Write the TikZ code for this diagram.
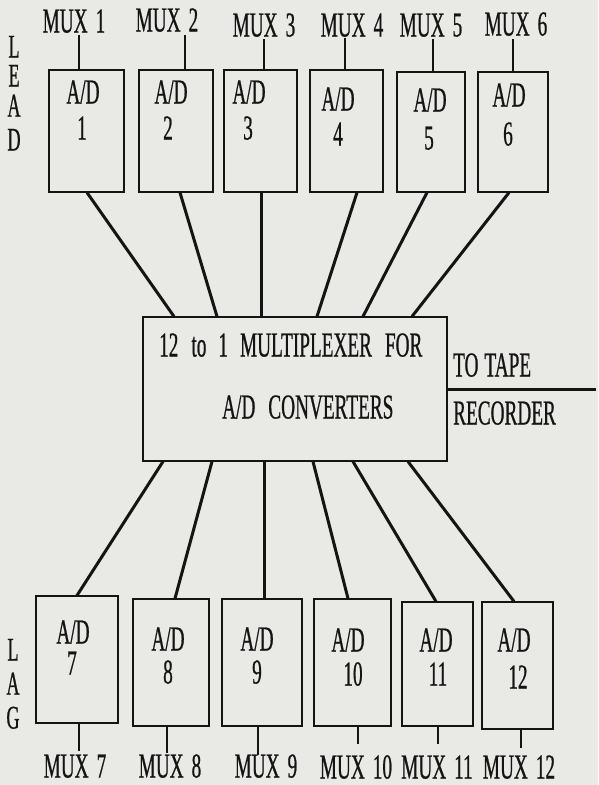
\documentclass[tikz,border=0pt]{standalone}
\usepackage{fontspec}
\setmainfont{Liberation Serif}[FakeStretch=0.55,FakeBold=0.6]
\definecolor{paper}{RGB}{233,234,230}
\definecolor{ink}{RGB}{20,20,20}
\tikzset{
  adbox/.style={draw=ink, line width=1.1pt, inner sep=0pt},
  lbl/.style={inner sep=0pt, text=ink, font={\fontsize{35}{40}\selectfont\spaceskip=8pt\relax}, text height=23pt, text depth=0pt},
  letter/.style={lbl, font={\fontsize{33}{38}\selectfont}, text height=21pt},
  wire/.style={draw=ink, line width=3pt},
  stub/.style={draw=ink, line width=2pt},
}
\begin{document}
\begin{tikzpicture}[x=1pt,y=-1pt]
\fill[paper] (0,0) rectangle (598,785);
\useasboundingbox (0,0) rectangle (598,785);

% LEAD / LAG
\node[letter] (l1) at (14,47) {L};
\node[letter] (l2) at (14,76) {E};
\node[letter] (l3) at (14,106) {A};
\node[letter] (l4) at (14,140) {D};
\node[letter] (g1) at (13,650) {L};
\node[letter] (g2) at (13,684) {A};
\node[letter] (g3) at (13,718) {G};

% top boxes
\node[adbox, minimum width=75pt, minimum height=122pt] (b1) at (86.5,131) {};
\node[adbox, minimum width=74pt, minimum height=122pt] (b2) at (176,131) {};
\node[adbox, minimum width=73pt, minimum height=122pt] (b3) at (260.5,131) {};
\node[adbox, minimum width=73pt, minimum height=122pt] (b4) at (346.5,131) {};
\node[adbox, minimum width=68pt, minimum height=120pt] (b5) at (431,132) {};
\node[adbox, minimum width=70pt, minimum height=120pt] (b6) at (513,132) {};

% bottom boxes
\node[adbox, minimum width=82pt, minimum height=127pt] (b7) at (77,659.5) {};
\node[adbox, minimum width=76pt, minimum height=127pt] (b8) at (171,662.5) {};
\node[adbox, minimum width=80pt, minimum height=127pt] (b9) at (262,662.5) {};
\node[adbox, minimum width=77pt, minimum height=127pt] (b10) at (352.5,662.5) {};
\node[adbox, minimum width=71pt, minimum height=124pt] (b11) at (437.5,664) {};
\node[adbox, minimum width=71pt, minimum height=127pt] (b12) at (517.5,665.5) {};

% central box
\node[adbox, minimum width=304pt, minimum height=144pt] (mx) at (295,389) {};
\node[lbl, anchor=west] (mxa) at (159,345) {12\hspace{13pt}to\hspace{12pt}1\hspace{12pt}MULTIPLEXER\hspace{13pt}FOR};
\node[lbl, anchor=west] (mxb) at (222,407) {A/D\hspace{13pt}CONVERTERS};
\node[lbl, anchor=west] (tp1) at (453,365) {TO\hspace{6pt}TAPE};
\node[lbl, anchor=west] (tp2) at (453,413) {RECORDER};
\coordinate (tapeend) at (596,389);
\draw[wire] (mx.east) -- (tapeend);

% box texts top
\node[lbl] (a1) at (83,92) {A/D};  \node[lbl] (n1) at (82,128) {1};
\node[lbl] (a2) at (171,92) {A/D}; \node[lbl] (n2) at (168,128) {2};
\node[lbl] (a3) at (249,92) {A/D}; \node[lbl] (n3) at (248,128) {3};
\node[lbl] (a4) at (338,99) {A/D}; \node[lbl] (n4) at (338,134) {4};
\node[lbl] (a5) at (430,100) {A/D}; \node[lbl] (n5) at (429,138) {5};
\node[lbl] (a6) at (509,95) {A/D}; \node[lbl] (n6) at (508,134) {6};

% box texts bottom
\node[lbl] (a7) at (73,632) {A/D};  \node[lbl] (n7) at (72,663) {7};
\node[lbl] (a8) at (168,639) {A/D}; \node[lbl] (n8) at (168,672) {8};
\node[lbl] (a9) at (257,639) {A/D}; \node[lbl] (n9) at (257,672) {9};
\node[lbl] (a10) at (348,640) {A/D}; \node[lbl] (n10) at (353,674) {10};
\node[lbl] (a11) at (436,640) {A/D}; \node[lbl] (n11) at (438,674) {11};
\node[lbl] (a12) at (514,640) {A/D}; \node[lbl] (n12) at (518,677) {12};

% MUX labels
\node[lbl] (m1) at (74,21) {MUX 1};
\node[lbl] (m2) at (167,20) {MUX 2};
\node[lbl] (m3) at (264,25) {MUX 3};
\node[lbl] (m4) at (352,25) {MUX 4};
\node[lbl] (m5) at (431,25) {MUX 5};
\node[lbl] (m6) at (516,24) {MUX 6};
\node[lbl] (m7) at (75,766) {MUX 7};
\node[lbl] (m8) at (170,766) {MUX 8};
\node[lbl] (m9) at (266,766) {MUX 9};
\node[lbl] (m10) at (356,767) {MUX 10};
\node[lbl] (m11) at (437,767) {MUX 11};
\node[lbl] (m12) at (519,767) {MUX 12};

% stubs to MUX labels
\coordinate (s1) at (79,35);   \draw[stub] (s1) -- (s1 |- b1.north);
\coordinate (s2) at (185,35);  \draw[stub] (s2) -- (s2 |- b2.north);
\coordinate (s3) at (264,39);  \draw[stub] (s3) -- (s3 |- b3.north);
\coordinate (s4) at (345,38);  \draw[stub] (s4) -- (s4 |- b4.north);
\coordinate (s5) at (433,39);  \draw[stub] (s5) -- (s5 |- b5.north);
\coordinate (s6) at (513,39);  \draw[stub] (s6) -- (s6 |- b6.north);
\coordinate (s7) at (79,751);  \draw[stub] (s7) -- (s7 |- b7.south);
\coordinate (s8) at (167,753); \draw[stub] (s8) -- (s8 |- b8.south);
\coordinate (s9) at (258,755); \draw[stub] (s9) -- (s9 |- b9.south);
\coordinate (s10) at (358,744); \draw[stub] (s10) -- (s10 |- b10.south);
\coordinate (s11) at (438,744); \draw[stub] (s11) -- (s11 |- b11.south);
\coordinate (s12) at (521,748); \draw[stub] (s12) -- (s12 |- b12.south);

% wires top boxes to multiplexer
\draw[wire] ([xshift=0.5pt]b1.south) -- ([xshift=-121pt]mx.north);
\draw[wire] ([xshift=4pt]b2.south) -- ([xshift=-78pt]mx.north);
\draw[wire] ([xshift=0.5pt]b3.south) -- ([xshift=-34pt]mx.north);
\draw[wire] ([xshift=10.5pt]b4.south) -- ([xshift=22pt]mx.north);
\draw[wire] ([xshift=-4pt]b5.south) -- ([xshift=68pt]mx.north);
\draw[wire] ([xshift=-4pt]b6.south) -- ([xshift=117pt]mx.north);

% wires multiplexer to bottom boxes
\draw[wire] ([xshift=-132pt]mx.south) -- ([xshift=0pt]b7.north);
\draw[wire] ([xshift=-83pt]mx.south) -- ([xshift=4pt]b8.north);
\draw[wire] ([xshift=-31pt]mx.south) -- ([xshift=2pt]b9.north);
\draw[wire] ([xshift=18pt]mx.south) -- ([xshift=-4.5pt]b10.north);
\draw[wire] ([xshift=58pt]mx.south) -- ([xshift=-1.5pt]b11.north);
\draw[wire] ([xshift=113pt]mx.south) -- ([xshift=-3.5pt]b12.north);
\end{tikzpicture}
\end{document}
